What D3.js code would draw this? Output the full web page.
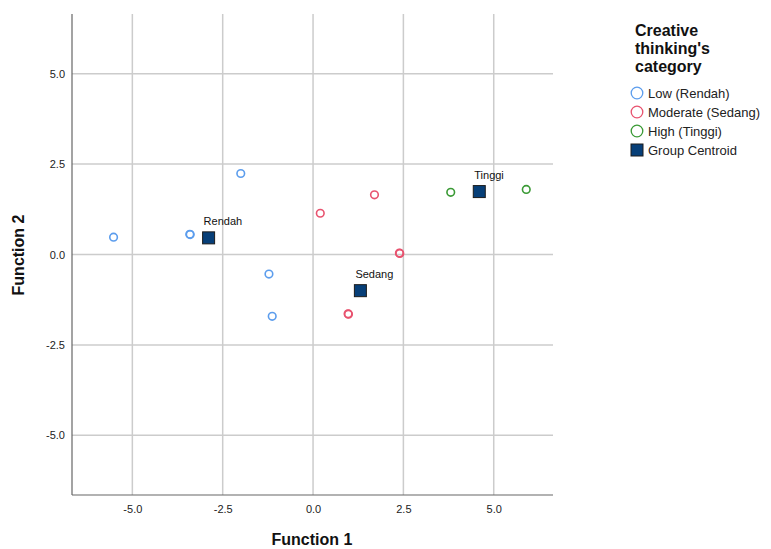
<!DOCTYPE html>
<html>
<head>
<meta charset="utf-8">
<script src="https://cdn.jsdelivr.net/npm/d3@7"></script>
<style>
  body { margin: 0; background: #fff; }
  text { font-family: Arial, "Liberation Sans", sans-serif; }
</style>
</head>
<body>
<svg id="chart" width="771" height="549"></svg>
<script>
// discriminant scores per case (function 1, function 2)
const lowX = [-5.52, -3.41, -3.40, -2.00, -1.22, -1.13];
const lowY = [0.48, 0.56, 0.55, 2.24, -0.54, -1.71];
const modX = [0.20, 1.70, 2.39, 2.40, 0.97, 0.98];
const modY = [1.14, 1.65, 0.04, 0.03, -1.64, -1.65];
const highX = [3.81, 5.90];
const highY = [1.72, 1.80];

const centroidNames = ['Rendah', 'Sedang', 'Tinggi'];
const centroidX = [-2.89, 1.31, 4.60];
const centroidY = [0.46, -1.00, 1.74];

const tickValues = [-5, -2.5, 0, 2.5, 5];
const legendLabels = ['Low (Rendah)', 'Moderate (Sedang)', 'High (Tinggi)', 'Group Centroid'];

const svg = d3.select('#chart');
const plotL = 72, plotR = 553, plotT = 14, plotB = 495;

const x = d3.scaleLinear().domain([-6.67, 6.64]).range([plotL, plotR]);
const y = d3.scaleLinear().domain([-6.65, 6.65]).range([plotB, plotT]);

// plain hyphen for negatives, like the original
const fmt = d => d.toFixed(1);

// gridlines
svg.append('g').selectAll('line').data(tickValues).join('line')
  .attr('x1', d => x(d)).attr('x2', d => x(d))
  .attr('y1', plotT).attr('y2', plotB)
  .attr('stroke', '#cccccc').attr('stroke-width', 1.5);
svg.append('g').selectAll('line').data(tickValues).join('line')
  .attr('x1', plotL).attr('x2', plotR)
  .attr('y1', d => y(d)).attr('y2', d => y(d))
  .attr('stroke', '#cccccc').attr('stroke-width', 1.5);

// axes
const xAxis = d3.axisBottom(x).tickValues(tickValues).tickFormat(fmt).tickSize(0).tickPadding(10);
const yAxis = d3.axisLeft(y).tickValues(tickValues).tickFormat(fmt).tickSize(0).tickPadding(7);

const gx = svg.append('g').attr('transform', `translate(0,${plotB})`).call(xAxis);
const gy = svg.append('g').attr('transform', `translate(${plotL},0)`).call(yAxis);
[gx, gy].forEach(g => {
  g.select('.domain').attr('stroke', '#666').attr('stroke-width', 1.2);
  g.selectAll('text').attr('font-size', 11).attr('fill', '#222')
    .attr('font-family', 'Arial, "Liberation Sans", sans-serif');
});
gx.select('.domain').attr('d', `M${plotL},0H${plotR}`);
gy.select('.domain').attr('d', `M0,${plotT}V${plotB}`);

// axis titles
svg.append('text').attr('x', 312).attr('y', 545)
  .attr('text-anchor', 'middle').attr('font-size', 16).attr('font-weight', 'bold')
  .attr('fill', '#111').text('Function 1');
svg.append('text').attr('transform', `translate(24,255) rotate(-90)`)
  .attr('text-anchor', 'middle').attr('font-size', 16).attr('font-weight', 'bold')
  .attr('fill', '#111').text('Function 2');

// group scatter
const groups = [
  { xs: lowX, ys: lowY, color: '#5c9ded' },
  { xs: modX, ys: modY, color: '#e8536f' },
  { xs: highX, ys: highY, color: '#3a9a35' }
];
groups.forEach(g => {
  svg.append('g').selectAll('circle').data(g.xs).join('circle')
    .attr('cx', d => x(d))
    .attr('cy', (d, i) => y(g.ys[i]))
    .attr('r', 3.8)
    .attr('fill', 'none')
    .attr('stroke', g.color)
    .attr('stroke-width', 1.6);
});

// centroids
const cg = svg.append('g');
cg.selectAll('rect').data(centroidX).join('rect')
  .attr('x', d => x(d) - 6)
  .attr('y', (d, i) => y(centroidY[i]) - 6)
  .attr('width', 12).attr('height', 12)
  .attr('fill', '#073f78').attr('stroke', '#1c1c1c').attr('stroke-width', 1);
cg.selectAll('text').data(centroidX).join('text')
  .attr('x', d => x(d) - 5)
  .attr('y', (d, i) => y(centroidY[i]) - 13)
  .attr('font-size', 11).attr('fill', '#111')
  .text((d, i) => centroidNames[i]);

// legend
const lg = svg.append('g');
['Creative', "thinking's", 'category'].forEach((t, i) => {
  lg.append('text').attr('x', 635).attr('y', 36 + i * 18)
    .attr('font-size', 16).attr('font-weight', 'bold').attr('fill', '#111').text(t);
});
const legendColors = groups.map(g => g.color);
legendLabels.forEach((t, i) => {
  const cy = 93 + i * 19;
  if (i < 3) {
    lg.append('circle').attr('cx', 637).attr('cy', cy).attr('r', 5.8)
      .attr('fill', 'none').attr('stroke', legendColors[i]).attr('stroke-width', 1.3);
  } else {
    lg.append('rect').attr('x', 631).attr('y', cy - 6).attr('width', 12).attr('height', 12)
      .attr('fill', '#073f78').attr('stroke', '#1c1c1c').attr('stroke-width', 1);
  }
  lg.append('text').attr('x', 648).attr('y', cy + 5)
    .attr('font-size', 13).attr('fill', '#222').text(t);
});
</script>
</body>
</html>
